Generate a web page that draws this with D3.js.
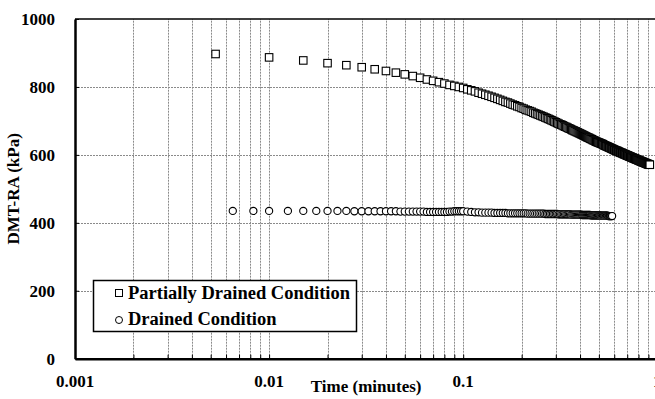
<!DOCTYPE html>
<html>
<head>
<meta charset="utf-8">
<script src="https://cdn.jsdelivr.net/npm/d3@7"></script>
<style>
body{margin:0;background:#fff;}
svg text{font-family:"Liberation Serif","Times New Roman",serif !important;font-weight:bold;fill:#000;}
</style>
</head>
<body>
<svg id="chart" width="655" height="399"></svg>
<script>
//partially drained condition (squares), time in minutes
let pdTime = [0.0053,0.010,0.015,0.020,0.025,0.030,0.035,0.040,0.045,0.050,
  0.055,0.060,0.065,0.070,0.075,0.080,0.085,0.090,0.095,0.100,
  0.105,0.110,0.115,0.120,0.125,0.130,0.135,0.140,0.145,0.150,
  0.155,0.160,0.165,0.170,0.175,0.180,0.185,0.190,0.195,0.200,
  0.205,0.210,0.215,0.220,0.225,0.230,0.235,0.240,0.245,0.250,
  0.255,0.260,0.265,0.270,0.275,0.280,0.285,0.290,0.295,0.300,
  0.305,0.310,0.315,0.320,0.325,0.330,0.335,0.340,0.345,0.350,
  0.355,0.360,0.365,0.370,0.375,0.380,0.385,0.390,0.395,0.400,
  0.405,0.410,0.415,0.420,0.425,0.430,0.435,0.440,0.445,0.450,
  0.455,0.460,0.465,0.470,0.475,0.480,0.485,0.490,0.495,0.500,
  0.505,0.510,0.515,0.520,0.525,0.530,0.535,0.540,0.545,0.550,
  0.555,0.560,0.565,0.570,0.575,0.580,0.585,0.590,0.595,0.600,
  0.605,0.610,0.615,0.620,0.625,0.630,0.635,0.640,0.645,0.650,
  0.655,0.660,0.665,0.670,0.675,0.680,0.685,0.690,0.695,0.700,
  0.705,0.710,0.715,0.720,0.725,0.730,0.735,0.740,0.745,0.750,
  0.755,0.760,0.765,0.770,0.775,0.780,0.785,0.790,0.795,0.800,
  0.805,0.810,0.815,0.820,0.825,0.830,0.835,0.840,0.845,0.850,
  0.855,0.860,0.865,0.870,0.875,0.880,0.885,0.890,0.895,0.900,
  0.905,0.910,0.915];
let pdValue = [897,887,878,870,864,858,852,847,842,837,
  832,827,822,818,814,810,806,803,800,797,
  793,790,787,783,780,777,774,771,768,765,
  762,759,756,754,751,748,746,743,741,738,
  736,733,731,729,727,724,722,720,718,716,
  714,712,710,708,706,704,702,700,698,696,
  694,692,690,689,687,685,683,682,680,678,
  677,675,673,672,670,669,667,666,664,663,
  661,660,658,657,655,654,652,651,650,648,
  647,646,644,643,642,640,639,638,637,636,
  635,634,633,632,631,629,628,627,626,625,
  624,623,622,621,620,619,618,617,616,615,
  614,613,612,612,611,610,609,608,607,606,
  606,605,604,603,602,602,601,600,599,598,
  598,597,596,595,595,594,593,592,592,591,
  590,590,589,588,588,587,586,586,585,584,
  584,583,582,582,581,580,580,579,579,578,
  577,577,576,576,575,574,574,573,573,572,
  572,571,571];

//drained condition (circles)
let dTime = [0.0065,0.0083,0.0100,0.0125,0.0150,0.0175,0.0200,0.0225,0.0250,0.0275,
  0.0300,0.0325,0.0350,0.0375,0.0400,0.0425,0.0450,0.0475,0.0500,0.0525,
  0.0550,0.0575,0.0600,0.0625,0.0650,0.0675,0.0700,0.0725,0.0750,0.0775,
  0.0800,0.0825,0.0850,0.0875,0.0900,0.0925,0.0950,0.0975,0.1000,
  0.105,0.110,0.115,0.120,0.125,0.130,0.135,0.140,0.145,0.150,
  0.155,0.160,0.165,0.170,0.175,0.180,0.185,0.190,0.195,0.200,
  0.205,0.210,0.215,0.220,0.225,0.230,0.235,0.240,0.245,0.250,
  0.255,0.260,0.265,0.270,0.275,0.280,0.285,0.290,0.295,0.300,
  0.305,0.310,0.315,0.320,0.325,0.330,0.335,0.340,0.345,0.350,
  0.355,0.360,0.365,0.370,0.375,0.380,0.385,0.390,0.395,0.400,
  0.405,0.410,0.415,0.420,0.425,0.430,0.435,0.440,0.445,0.450,
  0.455,0.460,0.465,0.470,0.475,0.480,0.485,0.490,0.495,0.500,
  0.505,0.510,0.515,0.520,0.525,0.530,0.535,0.540,0.545,0.550,
  0.555,0.560,0.565,0.570,0.575,0.580,0.585];
let dValue = [435,435,435,435,435,435,435,435,435,434,
  434,434,434,434,434,434,434,433,433,433,
  433,433,433,433,432,432,432,432,432,432,
  432,432,433,433,434,434,434,434,434,
  433,432,431,431,430,430,430,430,429,429,
  429,429,429,428,428,428,428,428,428,428,
  428,428,427,427,427,427,427,427,427,427,
  427,427,426,426,426,426,426,426,426,426,
  426,425,425,425,425,425,425,425,425,425,
  425,424,424,424,424,424,424,424,424,424,
  424,423,423,423,423,423,423,423,423,423,
  422,422,422,422,422,422,422,422,422,422,
  422,421,421,421,421,421,421,421,421,421,
  421,420,420,420,420,420,420];

let xTicks = [0.001,0.01,0.1,1];
let xTickLabels = ['0.001','0.01','0.1','1'];
let yTicks = [0,200,400,600,800,1000];
let legendLabels = ['Partially Drained Condition','Drained Condition'];

let serif = '"Liberation Serif","Times New Roman",serif';
let svg = d3.select('#chart');

let xScale = d3.scaleLog().domain([0.001,1]).range([75,657.3]);
let yScale = d3.scaleLinear().domain([0,1000]).range([358.7,19]);

//grid
let grid = svg.append('g');
grid.selectAll('.vgrid')
  .data(xScale.ticks().filter(function(d){return d > 0.001;}))
  .enter().append('line')
  .attr('x1',function(d){return Math.round(xScale(d))+0.5})
  .attr('x2',function(d){return Math.round(xScale(d))+0.5})
  .attr('y1',yScale(0)).attr('y2',yScale(1000))
  .attr('stroke','#8a8a8a').attr('stroke-width',1).attr('stroke-dasharray','2,1');
grid.selectAll('.hgrid')
  .data(yTicks.filter(function(d){return d > 0 && d < 1000;}))
  .enter().append('line')
  .attr('x1',xScale(0.001)).attr('x2',655)
  .attr('y1',function(d){return Math.round(yScale(d))+0.5})
  .attr('y2',function(d){return Math.round(yScale(d))+0.5})
  .attr('stroke','#8a8a8a').attr('stroke-width',1).attr('stroke-dasharray','2,1');

//axes
let xAxis = d3.axisBottom(xScale)
  .tickValues(xScale.ticks())
  .tickSizeInner(-4).tickSizeOuter(0)
  .tickFormat('');
svg.append('g')
  .attr('transform','translate(0,'+yScale(0)+')')
  .call(xAxis)
  .call(function(g){
    g.select('.domain').attr('stroke','#000').attr('stroke-width',2.5);
    g.selectAll('.tick line').attr('stroke','#000').attr('stroke-width',1);
  });

svg.selectAll('.xlab')
  .data(xTicks)
  .enter().append('text')
  .attr('x',function(d){return xScale(d)})
  .attr('y',387)
  .attr('text-anchor','middle')
  .style('font-family',serif).style('font-weight','bold')
  .attr('font-size',17)
  .text(function(d,i){return xTickLabels[i]});

let yAxis = d3.axisLeft(yScale)
  .tickValues(yTicks)
  .tickSizeInner(-4).tickSizeOuter(0)
  .tickPadding(20)
  .tickFormat(d3.format('d'));
svg.append('g')
  .attr('transform','translate('+xScale(0.001)+',0)')
  .call(yAxis)
  .call(function(g){
    g.select('.domain').attr('stroke','#000').attr('stroke-width',2.5);
    g.selectAll('.tick line').attr('stroke','#000');
    g.selectAll('.tick text')
      .attr('font-size',17)
      .style('font-family',serif).style('font-weight','bold')
      .attr('fill','#000');
  });

//top frame line
svg.append('line')
  .attr('x1',xScale(0.001)).attr('x2',655)
  .attr('y1',yScale(1000)).attr('y2',yScale(1000))
  .attr('stroke','#000').attr('stroke-width',1.5);

//axis titles
svg.append('text')
  .attr('x',(xScale(0.001)+xScale(1))/2)
  .attr('y',392)
  .attr('text-anchor','middle')
  .style('font-family',serif).style('font-weight','bold')
  .attr('font-size',17)
  .text('Time (minutes)');
svg.append('text')
  .attr('transform','translate(19,'+((yScale(0)+yScale(1000))/2)+') rotate(-90)')
  .attr('text-anchor','middle')
  .style('font-family',serif).style('font-weight','bold')
  .attr('font-size',17)
  .text('DMT-RA (kPa)');

//data
let sq = 7.5;
svg.append('g').selectAll('rect')
  .data(pdTime)
  .enter().append('rect')
  .attr('x',function(d){return xScale(d)-sq/2})
  .attr('y',function(d,i){return yScale(pdValue[i])-sq/2})
  .attr('width',sq).attr('height',sq)
  .attr('fill','#fff').attr('stroke','#000').attr('stroke-width',1.1);

svg.append('g').selectAll('circle')
  .data(dTime)
  .enter().append('circle')
  .attr('cx',function(d){return xScale(d)})
  .attr('cy',function(d,i){return yScale(dValue[i])})
  .attr('r',3.6)
  .attr('fill','#fff').attr('stroke','#000').attr('stroke-width',1.1);

//legend
let legend = svg.append('g');
legend.append('rect')
  .attr('x',93.5).attr('y',280.5).attr('width',263).attr('height',51)
  .attr('fill','#fff').attr('stroke','#000').attr('stroke-width',1.5);
legend.append('rect')
  .attr('x',115.5).attr('y',289.5).attr('width',7).attr('height',7)
  .attr('fill','#fff').attr('stroke','#000');
legend.append('circle')
  .attr('cx',119).attr('cy',320).attr('r',3.5)
  .attr('fill','#fff').attr('stroke','#000');
legend.selectAll('.legtext')
  .data(legendLabels)
  .enter().append('text')
  .attr('x',128)
  .attr('y',function(d,i){return 299 + i*26})
  .style('font-family',serif).style('font-weight','bold')
  .attr('font-size',18.5)
  .text(function(d){return d});
</script>
</body>
</html>
